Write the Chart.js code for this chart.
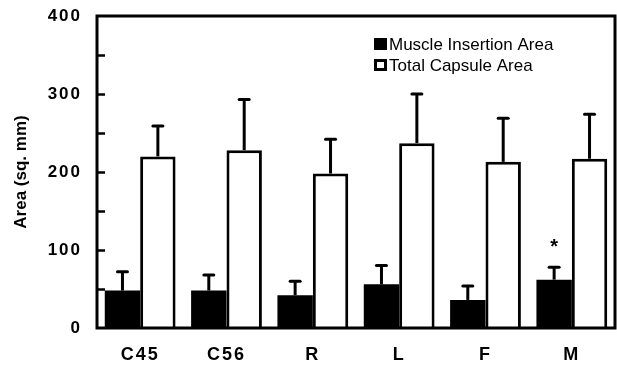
<!DOCTYPE html>
<html>
<head>
<meta charset="utf-8">
<script src="https://cdn.jsdelivr.net/npm/chart.js@4/dist/chart.umd.min.js"></script>
<style>
  html, body { margin: 0; padding: 0; background: #fff; }
  #wrap { width: 617px; height: 366px; }
</style>
</head>
<body>
<div id="wrap"><canvas id="chart" width="617" height="366"></canvas></div>
<script>
var categories = ["C45", "C56", "R", "L", "F", "M"];
var muscleArea = [48, 48, 42, 56, 36, 62];
var muscleErr = [24, 20, 18, 24, 18, 16];
var capsuleArea = [220, 228, 198, 237, 213, 217];
var capsuleErr = [39, 65, 44, 63, 56, 57];
var marks = ["", "", "", "", "", "*"];
var yTicks = [0, 100, 200, 300, 400];
var yTitle = "Area (sq. mm)";

var fontFamily = "Arial, 'Liberation Sans', Helvetica, sans-serif";

// error bars, inward ticks, frame, legend, axis title and asterisk
var extras = {
    id: "extras",
    beforeDraw: function(chart) {
        chart.ctx.letterSpacing = "2px";
    },
    afterDatasetsDraw: function(chart) {
        var ctx = chart.ctx;
        var y = chart.scales.y;
        var errs = [muscleErr, capsuleErr];
        ctx.save();
        ctx.strokeStyle = "#000";
        ctx.lineWidth = 3;
        chart.data.datasets.forEach(function(ds, i) {
            var meta = chart.getDatasetMeta(i);
            meta.data.forEach(function(bar, j) {
                var top = y.getPixelForValue(ds.data[j] + errs[i][j]);
                ctx.lineCap = "butt";
                ctx.beginPath();
                ctx.moveTo(bar.x, bar.y);
                ctx.lineTo(bar.x, top);
                ctx.stroke();
                ctx.lineCap = "round";
                ctx.beginPath();
                ctx.moveTo(bar.x - 5, top);
                ctx.lineTo(bar.x + 5, top);
                ctx.stroke();
                if (i == 0 && marks[j]) {
                    ctx.letterSpacing = "0px";
                    ctx.fillStyle = "#000";
                    ctx.font = "bold 20px " + fontFamily;
                    ctx.textAlign = "center";
                    ctx.textBaseline = "middle";
                    ctx.fillText(marks[j], bar.x, top - 20);
                }
            });
        });
        ctx.restore();
    },
    afterDraw: function(chart) {
        var ctx = chart.ctx;
        var a = chart.chartArea;
        var y = chart.scales.y;
        ctx.save();
        ctx.letterSpacing = "0px";
        ctx.strokeStyle = "#000";
        // inward ticks every 50
        ctx.lineWidth = 2.5;
        for (var v = y.min + 50; v < y.max; v += 50) {
            var py = Math.round(y.getPixelForValue(v)) + 0.5;
            ctx.beginPath();
            ctx.moveTo(a.left, py);
            ctx.lineTo(a.left + 8, py);
            ctx.stroke();
        }
        // frame
        ctx.lineWidth = 3;
        ctx.strokeRect(a.left, a.top, a.right - a.left, a.bottom - a.top);

        // y axis title
        ctx.fillStyle = "#000";
        ctx.font = "bold 17px " + fontFamily;
        ctx.textAlign = "center";
        ctx.textBaseline = "middle";
        ctx.save();
        ctx.translate(21, (a.top + a.bottom) / 2);
        ctx.rotate(-Math.PI / 2);
        ctx.fillText(yTitle, 0, 0);
        ctx.restore();

        // legend
        var lx = 374, ly = 38;
        ctx.font = "17px " + fontFamily;
        ctx.textAlign = "left";
        chart.data.datasets.forEach(function(ds, i) {
            var by = ly + i * 21;
            ctx.fillStyle = "#000";
            ctx.fillRect(lx, by, 13, 12);
            if (ds.backgroundColor != "#000") {
                ctx.fillStyle = "#fff";
                ctx.fillRect(lx + 3, by + 3, 7, 6);
            }
            ctx.fillStyle = "#000";
            ctx.fillText(ds.label, lx + 15, by + 7);
        });
        ctx.restore();
    }
};

new Chart(document.getElementById("chart"), {
    type: "bar",
    data: {
        labels: categories,
        datasets: [{
            label: "Muscle Insertion Area",
            data: muscleArea,
            backgroundColor: "#000",
            borderColor: "#000",
            borderWidth: 0
        }, {
            label: "Total Capsule Area",
            data: capsuleArea,
            backgroundColor: "#fff",
            borderColor: "#000",
            borderWidth: 3,
            borderSkipped: "bottom"
        }]
    },
    options: {
        responsive: false,
        animation: false,
        layout: { padding: { top: 16, right: 2, left: 0, bottom: 0 } },
        datasets: {
            bar: { categoryPercentage: 0.82, barPercentage: 1.0 }
        },
        plugins: {
            legend: { display: false },
            tooltip: { enabled: false }
        },
        scales: {
            x: {
                grid: { display: false, drawTicks: false },
                border: { display: false },
                ticks: {
                    color: "#000",
                    padding: 16,
                    font: { family: fontFamily, size: 18, weight: "bold" }
                },
                afterFit: function(scale) {
                    scale.height = 38;
                    scale.paddingLeft = 0;
                    scale.paddingRight = 0;
                }
            },
            y: {
                min: 0,
                max: 400,
                afterBuildTicks: function(scale) {
                    scale.ticks = yTicks.map(function(v) { return { value: v }; });
                },
                grid: { display: false, drawTicks: false },
                border: { display: false },
                ticks: {
                    color: "#000",
                    padding: 15,
                    font: { family: fontFamily, size: 17, weight: "bold" }
                },
                afterFit: function(scale) {
                    scale.width = 97;
                    scale.paddingTop = 0;
                    scale.paddingBottom = 0;
                }
            }
        }
    },
    plugins: [extras]
});
</script>
</body>
</html>
